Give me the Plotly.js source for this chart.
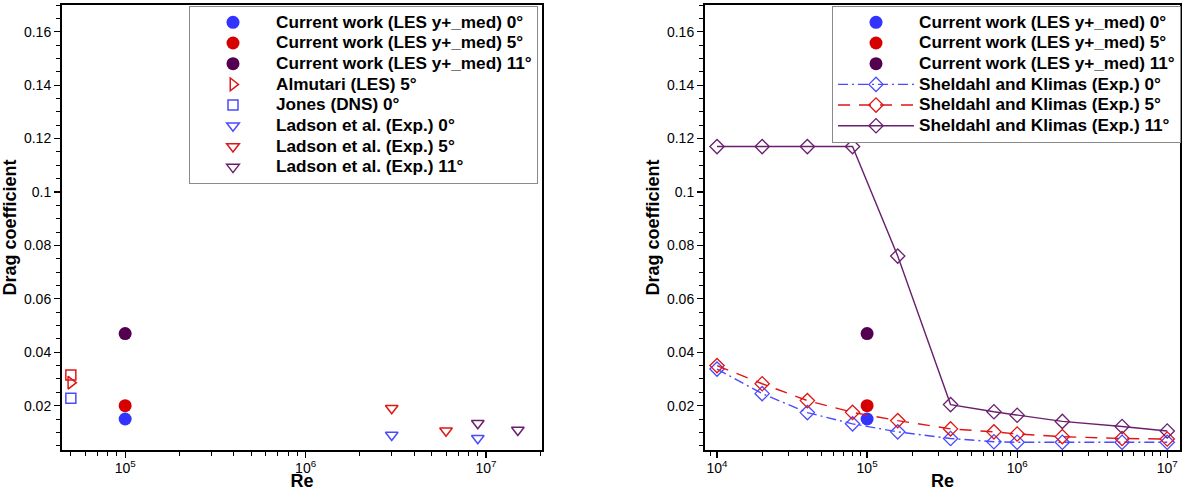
<!DOCTYPE html>
<html>
<head>
<meta charset="utf-8">
<script src="https://cdn.plot.ly/plotly-3.0.1.min.js"></script>
<style>html,body{margin:0;padding:0;background:#fff;}#chart{width:1187px;height:491px;}</style>
</head>
<body>
<div id="chart"></div>
<script>
// ---- data ----
const reLES = [1e5];
const cdLES0 = [0.0150];
const cdLES5 = [0.0200];
const cdLES11 = [0.0470];

const reAlmutari = [5e4];
const cdAlmutari5 = [0.0286];

const reJones = [5e4];
const cdJones0 = [0.0228];
const reRedSquare = [5e4];
const cdRedSquare = [0.0315];

const reLadson0 = [3e6, 9e6];
const cdLadson0 = [0.0090, 0.0078];
const reLadson5 = [3e6, 6e6];
const cdLadson5 = [0.0190, 0.0106];
const reLadson11 = [9e6, 1.5e7];
const cdLadson11 = [0.0134, 0.0109];

const reSheldahl = [1e4, 2e4, 4e4, 8e4, 1.6e5, 3.6e5, 7e5, 1e6, 2e6, 5e6, 1e7];
const cdSheldahl0 = [0.0337, 0.0245, 0.0174, 0.0132, 0.0102, 0.0077, 0.0065, 0.0063, 0.0063, 0.0063, 0.0063];
const cdSheldahl5 = [0.0350, 0.0282, 0.0219, 0.0175, 0.0144, 0.0113, 0.0102, 0.0094, 0.0084, 0.0077, 0.0075];
const cdSheldahl11 = [0.1170, 0.1170, 0.1170, 0.1170, 0.0760, 0.0204, 0.0177, 0.0164, 0.0141, 0.0122, 0.0105];

const namesLES = ['Current work (LES y+_med) 0°', 'Current work (LES y+_med) 5°', 'Current work (LES y+_med) 11°'];
const nameAlmutari = 'Almutari (LES) 5°';
const nameJones = 'Jones (DNS) 0°';
const namesLadson = ['Ladson et al. (Exp.) 0°', 'Ladson et al. (Exp.) 5°', 'Ladson et al. (Exp.) 11°'];
const namesSheldahl = ['Sheldahl and Klimas (Exp.) 0°', 'Sheldahl and Klimas (Exp.) 5°', 'Sheldahl and Klimas (Exp.) 11°'];

const majorRe = [1e4, 1e5, 1e6, 1e7];
const majorReText = ['10<sup>4</sup>', '10<sup>5</sup>', '10<sup>6</sup>', '10<sup>7</sup>'];

// ---- styles ----
const BLUE = '#3333ff', RED = '#d60000', PURPLE = '#52004f';
const BLUE_O = '#4a4aff', RED_O = '#e01515', PURPLE_O = '#6a1f6e';
const W = 1187, H = 491;
const LEGEND_TEXT_PX = 17.2;

function lg(name) { return '<span style="font-size:' + LEGEND_TEXT_PX + 'px">' + name + '</span>'; }

function minorLogVals(a, b) {
  const v = [];
  for (let e = a; e <= b; e++) for (let d = 2; d <= 9; d++) v.push(d * Math.pow(10, e));
  return v;
}

const NOLINE = {color: 'rgba(0,0,0,0)', width: 0};
function pts(x, y, name, marker, xa, ya, legend, extra) {
  return Object.assign({x: x, y: y, name: lg(name), mode: 'lines+markers', line: NOLINE,
    marker: marker, xaxis: xa, yaxis: ya, legend: legend}, extra || {});
}

const traces = [];
// left panel
traces.push(pts(reLES, cdLES0, namesLES[0], {symbol: 'circle', size: 13, color: BLUE}, 'x', 'y', 'legend'));
traces.push(pts(reLES, cdLES5, namesLES[1], {symbol: 'circle', size: 13, color: RED}, 'x', 'y', 'legend'));
traces.push(pts(reLES, cdLES11, namesLES[2], {symbol: 'circle', size: 13, color: PURPLE}, 'x', 'y', 'legend'));
traces.push(pts(reAlmutari, cdAlmutari5, nameAlmutari, {symbol: 'triangle-right-open', size: 11, color: RED_O, line: {width: 1.5}}, 'x', 'y', 'legend'));
traces.push(pts(reJones, cdJones0, nameJones, {symbol: 'square-open', size: 10, color: BLUE_O, line: {width: 1.5}}, 'x', 'y', 'legend'));
traces.push(pts(reLadson0, cdLadson0, namesLadson[0], {symbol: 'triangle-down-open', size: 11, color: BLUE_O, line: {width: 1.5}}, 'x', 'y', 'legend', {mode: 'markers'}));
traces.push(pts(reLadson5, cdLadson5, namesLadson[1], {symbol: 'triangle-down-open', size: 11, color: RED_O, line: {width: 1.5}}, 'x', 'y', 'legend', {mode: 'markers'}));
traces.push(pts(reLadson11, cdLadson11, namesLadson[2], {symbol: 'triangle-down-open', size: 11, color: PURPLE_O, line: {width: 1.5}}, 'x', 'y', 'legend', {mode: 'markers'}));
traces.push({x: reRedSquare, y: cdRedSquare, name: 'Jones (DNS) 5°', showlegend: false, mode: 'markers', marker: {symbol: 'square-open', size: 10, color: RED_O, line: {width: 1.5}}, xaxis: 'x', yaxis: 'y'});
// legend-only stand-ins so the Ladson symbols sit centred like the others
[[namesLadson[0], BLUE_O], [namesLadson[1], RED_O], [namesLadson[2], PURPLE_O]].forEach(function (p, i) {
  traces[5 + i].showlegend = false;
  traces.push({x: [null], y: [null], name: lg(p[0]), mode: 'lines+markers', line: NOLINE,
    marker: {symbol: 'triangle-down-open', size: 11, color: p[1], line: {width: 1.5}},
    xaxis: 'x', yaxis: 'y', legend: 'legend', legendrank: 100 + i});
});
traces.forEach(function (t, i) { if (t.legend === 'legend' && t.legendrank === undefined) t.legendrank = i; });

// right panel
traces.push({x: reLES, y: cdLES0, name: lg(namesLES[0]), mode: 'lines+markers', line: NOLINE, marker: {symbol: 'circle', size: 13, color: BLUE}, xaxis: 'x2', yaxis: 'y2', legend: 'legend2', legendrank: 1});
traces.push({x: reLES, y: cdLES5, name: lg(namesLES[1]), mode: 'lines+markers', line: NOLINE, marker: {symbol: 'circle', size: 13, color: RED}, xaxis: 'x2', yaxis: 'y2', legend: 'legend2', legendrank: 2});
traces.push({x: reLES, y: cdLES11, name: lg(namesLES[2]), mode: 'lines+markers', line: NOLINE, marker: {symbol: 'circle', size: 13, color: PURPLE}, xaxis: 'x2', yaxis: 'y2', legend: 'legend2', legendrank: 3});
traces.push({x: reSheldahl, y: cdSheldahl0, name: lg(namesSheldahl[0]), mode: 'lines+markers', line: {color: BLUE_O, width: 1.4, dash: '10px,4px,2px,4px'}, marker: {symbol: 'diamond-open', size: 11, color: BLUE_O, line: {width: 1.3}}, xaxis: 'x2', yaxis: 'y2', legend: 'legend2', legendrank: 4});
traces.push({x: reSheldahl, y: cdSheldahl5, name: lg(namesSheldahl[1]), mode: 'lines+markers', line: {color: RED_O, width: 1.4, dash: '12px,9px'}, marker: {symbol: 'diamond-open', size: 11, color: RED_O, line: {width: 1.3}}, xaxis: 'x2', yaxis: 'y2', legend: 'legend2', legendrank: 5});
traces.push({x: reSheldahl, y: cdSheldahl11, name: lg(namesSheldahl[2]), mode: 'lines+markers', line: {color: PURPLE_O, width: 1.4}, marker: {symbol: 'diamond-open', size: 11, color: PURPLE_O, line: {width: 1.3}}, xaxis: 'x2', yaxis: 'y2', legend: 'legend2', legendrank: 6});

const FONT = 'Liberation Sans, Arial, Helvetica, sans-serif';
const tickFont = {family: FONT, size: 14, color: '#000'};
const titleFont = {family: FONT, size: 18, color: '#000', weight: 'bold'};

function xAxis(domain, range, minorVals) {
  return {
    type: 'log', domain: domain, range: range,
    tickmode: 'array', tickvals: majorRe, ticktext: majorReText,
    showline: true, mirror: true, linewidth: 2, linecolor: '#000',
    showgrid: false, zeroline: false,
    ticks: 'outside', ticklen: 6, tickwidth: 1.2, tickcolor: '#000', tickfont: tickFont,
    ticklabelstandoff: -2,
    minor: {tickmode: 'array', tickvals: minorVals, ticks: 'outside', ticklen: 4, tickwidth: 1, tickcolor: '#000', showgrid: false},
    title: {text: 'Re', font: titleFont, standoff: 2}
  };
}
function yAxis(anchor) {
  return {
    anchor: anchor, domain: [1 - 450 / H, 1 - 5 / H], range: [0.0034, 0.1700],
    tick0: 0, dtick: 0.02,
    showline: true, mirror: true, linewidth: 2, linecolor: '#000',
    showgrid: false, zeroline: false,
    ticks: 'outside', ticklen: 6, tickwidth: 1.2, tickcolor: '#000', tickfont: tickFont,
    minor: {dtick: 0.005, ticks: 'outside', ticklen: 4, tickwidth: 1, tickcolor: '#000', showgrid: false},
    title: {text: 'Drag coefficient', font: titleFont, standoff: 3}
  };
}

const legendBase = {
  xref: 'paper', yref: 'paper', xanchor: 'left', yanchor: 'top',
  bgcolor: '#fff', bordercolor: '#8a8a8a', borderwidth: 1,
  font: {family: FONT, size: 13.6, color: '#000', weight: 'bold'},
  itemwidth: 76, traceorder: 'normal', valign: 'middle', tracegroupgap: 0
};

const layout = {
  width: W, height: H,
  margin: {l: 0, r: 0, t: 0, b: 0},
  paper_bgcolor: '#fff', plot_bgcolor: '#fff',
  showlegend: true,
  xaxis: Object.assign(xAxis([62 / W, 542 / W], [4.65, 7.31], minorLogVals(4, 7)), {anchor: 'y'}),
  yaxis: yAxis('x'),
  xaxis2: Object.assign(xAxis([705 / W, 1180 / W], [3.92, 7.085], minorLogVals(3, 7)), {anchor: 'y2'}),
  yaxis2: yAxis('x2'),
  legend: Object.assign({}, legendBase, {x: 189 / W, y: 1 - 6 / H}),
  legend2: Object.assign({}, legendBase, {x: 832 / W, y: 1 - 6 / H})
};

Plotly.newPlot('chart', traces, layout, {displayModeBar: false, staticPlot: true});
</script>
</body>
</html>
